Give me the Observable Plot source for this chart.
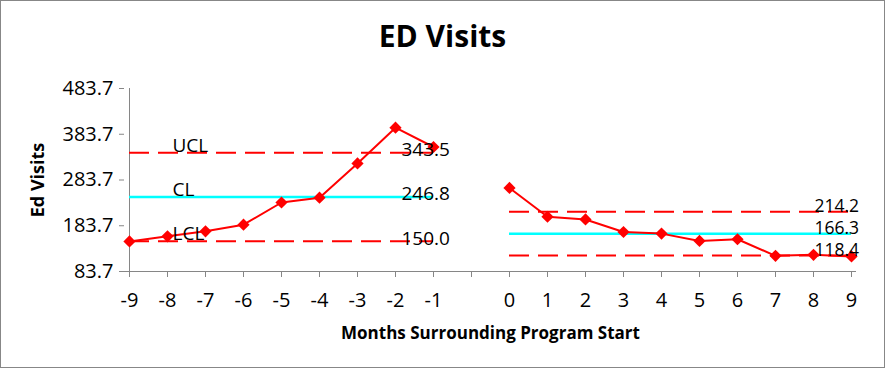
<!DOCTYPE html>
<html><head><meta charset="utf-8">
<script src="https://cdn.jsdelivr.net/npm/d3@7"></script>
<script src="https://cdn.jsdelivr.net/npm/@observablehq/plot@0.6"></script>
<style>
body{margin:0;background:#fff;}
#wrap{position:relative;width:885px;height:369px;overflow:hidden;}
#title{position:absolute;left:0;top:17px;width:885px;text-align:center;font-family:"Open Sans",sans-serif;font-weight:bold;font-size:30px;line-height:38px;color:#000;}
#border{position:absolute;left:0;top:0;width:885px;height:368px;box-sizing:border-box;border:1px solid #878787;pointer-events:none;}
#chart svg{font-family:"Open Sans",sans-serif;}
</style></head><body>
<div id="wrap"><div id="chart"></div><div id="title">ED Visits</div><div id="border"></div></div>
<script>
const monthsBefore = ["-9","-8","-7","-6","-5","-4","-3","-2","-1"];
const gapLabel = "";
const monthsAfter = ["0","1","2","3","4","5","6","7","8","9"];
const visitsBefore = [149.5,160.5,171.5,186,234.5,245,320,398,355.8];
const visitsAfter = [266.3,203.4,197.5,170,166.5,150.5,154.2,117.9,120.1,116.6];
const limitNames = ["UCL","CL","LCL"];
const limitsBefore = [343.5,246.8,150.0];
const limitsAfter = [214.2,166.3,118.4];
const yTicks = [83.7,183.7,283.7,383.7,483.7];
const yLabel = "Ed Visits";
const xLabel = "Months Surrounding Program Start";

const xDomain = [...monthsBefore, gapLabel, ...monthsAfter];
const points = [
  ...monthsBefore.map((m,i)=>({seg:"before",month:m,visits:visitsBefore[i]})),
  ...monthsAfter.map((m,i)=>({seg:"after",month:m,visits:visitsAfter[i]}))
];
const segs = [
  {seg:"before",start:monthsBefore[0],end:monthsBefore[monthsBefore.length-1],values:limitsBefore},
  {seg:"after",start:monthsAfter[0],end:monthsAfter[monthsAfter.length-1],values:limitsAfter}
];
const limits = segs.flatMap(s => limitNames.map((n,i)=>({seg:s.seg,name:n,value:s.values[i],start:s.start,end:s.end,label:d3.format(".1f")(s.values[i])})));
const axisGray = "#868686";
const font = "'Open Sans', sans-serif";

const chart = Plot.plot({
  width: 885,
  height: 369,
  marginLeft: 124,
  marginRight: 29,
  marginTop: 88,
  marginBottom: 98,
  style: {fontFamily: font, background: "transparent"},
  x: {type: "point", domain: xDomain, padding: 0, align: 0.5},
  y: {domain: [yTicks[0], yTicks[yTicks.length-1]]},
  marks: [
    Plot.axisY({ticks: yTicks, tickFormat: d3.format(".1f"), tickSize: 5, tickPadding: 6, fontSize: 20, stroke: axisGray, fill: "black", label: null}),
    Plot.axisX({ticks: xDomain, tickSize: 6, tickPadding: 15, fontSize: 20, stroke: axisGray, fill: "black", label: null}),
    Plot.ruleY([yTicks[0]], {stroke: axisGray, strokeWidth: 1}),
    Plot.ruleX([xDomain[0]], {stroke: axisGray, strokeWidth: 1}),
    Plot.ruleY(limits.filter(d=>d.name!=="CL"), {y:"value", x1:"start", x2:"end", stroke:"#ff0000", strokeWidth:2, strokeDasharray:"20,9"}),
    Plot.ruleY(limits.filter(d=>d.name==="CL"), {y:"value", x1:"start", x2:"end", stroke:"#00ffff", strokeWidth:2.5}),
    Plot.line(points, {x:"month", y:"visits", z:"seg", stroke:"#ff0000", strokeWidth:2}),
    Plot.dot(points, {x:"month", y:"visits", symbol: d3.symbolDiamond2, r:5.5, fill:"#ff0000", stroke:"none"}),
    Plot.text(limits.filter(d=>d.seg==="before"), {x:()=>monthsBefore[1], y:"value", text:"name", textAnchor:"start", lineAnchor:"bottom", dx:5, dy:-1, fontSize:19, fill:"black"}),
    Plot.text(limits.filter(d=>d.seg==="before"), {x:"end", y:"value", text:"label", textAnchor:"start", lineAnchor:"middle", dx:-32, dy:-2.5, fontSize:19, fill:"black"}),
    Plot.text(limits.filter(d=>d.seg==="after"), {x:"end", y:"value", text:"label", textAnchor:"start", lineAnchor:"middle", dx:-37, dy:-5.5, fontSize:17.5, fill:"black"}),
    Plot.text([yLabel], {frameAnchor:"left", rotate:-90, dx:-86, textAnchor:"middle", lineAnchor:"middle", fontSize:18, fontWeight:"bold", fill:"black"}),
    Plot.text([xLabel], {frameAnchor:"bottom", dy:67, textAnchor:"middle", lineAnchor:"bottom", fontSize:17, fontWeight:"bold", fill:"black"})
  ]
});
document.getElementById("chart").appendChild(chart);
</script>
</body></html>
